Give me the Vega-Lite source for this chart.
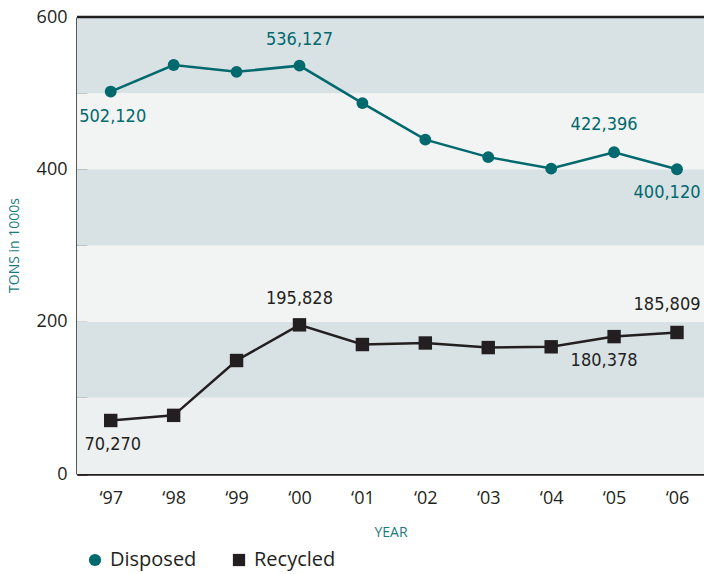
{
  "$schema": "https://vega.github.io/schema/vega-lite/v6.json",
  "width": 627,
  "height": 457,
  "autosize": {"type": "none"},
  "padding": {"left": 77, "top": 17, "right": 0, "bottom": 100},
  "background": "white",
  "config": {
    "view": {"stroke": null},
    "font": "Open Sans",
    "axis": {
      "domainColor": "#231f20",
      "domainWidth": 2.5,
      "tickColor": "#231f20",
      "tickWidth": 2.5,
      "grid": false,
      "labelFont": "Open Sans",
      "labelFontSize": 18,
      "labelColor": "#231f20",
      "titleFont": "Open Sans",
      "titleFontSize": 14,
      "titleFontWeight": "normal",
      "titleColor": "#1a7a7e"
    }
  },
  "datasets": {
    "bands": [
      {"lo": 0, "hi": 100},
      {"lo": 100, "hi": 200},
      {"lo": 200, "hi": 300},
      {"lo": 300, "hi": 400},
      {"lo": 400, "hi": 500},
      {"lo": 500, "hi": 600}
    ],
    "tons": [
      {"year": 1997, "series": "Disposed", "tons": 502.12, "label": "502,120"},
      {"year": 1998, "series": "Disposed", "tons": 537, "label": ""},
      {"year": 1999, "series": "Disposed", "tons": 528, "label": ""},
      {"year": 2000, "series": "Disposed", "tons": 536.127, "label": "536,127"},
      {"year": 2001, "series": "Disposed", "tons": 487, "label": ""},
      {"year": 2002, "series": "Disposed", "tons": 439, "label": ""},
      {"year": 2003, "series": "Disposed", "tons": 416, "label": ""},
      {"year": 2004, "series": "Disposed", "tons": 401, "label": ""},
      {"year": 2005, "series": "Disposed", "tons": 422.396, "label": "422,396"},
      {"year": 2006, "series": "Disposed", "tons": 400.12, "label": "400,120"},
      {"year": 1997, "series": "Recycled", "tons": 70.27, "label": "70,270"},
      {"year": 1998, "series": "Recycled", "tons": 77, "label": ""},
      {"year": 1999, "series": "Recycled", "tons": 149, "label": ""},
      {"year": 2000, "series": "Recycled", "tons": 195.828, "label": "195,828"},
      {"year": 2001, "series": "Recycled", "tons": 170, "label": ""},
      {"year": 2002, "series": "Recycled", "tons": 172, "label": ""},
      {"year": 2003, "series": "Recycled", "tons": 166, "label": ""},
      {"year": 2004, "series": "Recycled", "tons": 167, "label": ""},
      {"year": 2005, "series": "Recycled", "tons": 180.378, "label": "180,378"},
      {"year": 2006, "series": "Recycled", "tons": 185.809, "label": "185,809"}
    ]
  },
  "layer": [
    {
      "data": {"name": "bands"},
      "mark": {"type": "rect"},
      "encoding": {
        "y": {"field": "lo", "type": "quantitative", "scale": {"domain": [0, 600], "nice": false},
          "axis": {
            "values": [0, 100, 200, 300, 400, 500, 600],
            "tickSize": -10,
            "labelPadding": 20,
            "labelExpr": "datum.value % 200 == 0 ? datum.label : ''",
            "title": "TONS in 1000s",
            "titleFontSize": 14,
            "titleX": -56,
            "titleY": 228
          }},
        "y2": {"field": "hi"},
        "color": {
          "condition": [
            {"test": "datum.lo % 200 == 100", "value": "#d8e1e4"},
            {"test": "datum.lo == 0", "value": "#ecf0f1"}
          ],
          "value": "#f2f4f4"
        }
      }
    },
    {
      "data": {"name": "bands"},
      "transform": [{"filter": "datum.hi == 600"}],
      "mark": {"type": "rule", "color": "#231f20", "strokeWidth": 2.5},
      "encoding": {"y": {"field": "hi", "type": "quantitative"}}
    },
    {
      "data": {"name": "tons"},
      "mark": {"type": "line", "strokeWidth": 2.5},
      "encoding": {
        "x": {"field": "year", "type": "quantitative",
          "scale": {"domain": [1996.464, 2006.429], "nice": false, "zero": false},
          "axis": {
            "values": [1997, 1998, 1999, 2000, 2001, 2002, 2003, 2004, 2005, 2006],
            "tickSize": -8,
            "labelPadding": 23,
            "labelExpr": "'\u2018' + slice(toString(datum.value), 2)",
            "title": "YEAR",
            "titleY": 51
          }},
        "y": {"field": "tons", "type": "quantitative"},
        "color": {"field": "series", "type": "nominal",
          "scale": {"domain": ["Disposed", "Recycled"], "range": ["#00696d", "#231f20"]}}
      }
    },
    {
      "data": {"name": "tons"},
      "mark": {"type": "point", "filled": true, "opacity": 1},
      "encoding": {
        "x": {"field": "year", "type": "quantitative"},
        "y": {"field": "tons", "type": "quantitative"},
        "color": {"field": "series", "type": "nominal",
          "legend": {
            "orient": "none",
            "legendX": 8,
            "legendY": 533,
            "direction": "horizontal",
            "title": null,
            "labelFont": "Open Sans",
            "labelFontSize": 20,
            "labelColor": "#231f20",
            "symbolSize": 150,
            "symbolStrokeWidth": 0,
            "symbolOpacity": 1,
            "columnPadding": 32,
            "labelOffset": 5,
            "padding": 0
          }},
        "shape": {"field": "series", "type": "nominal",
          "scale": {"domain": ["Disposed", "Recycled"], "range": ["circle", "square"]}},
        "size": {"condition": {"test": "datum.series == 'Disposed'", "value": 140}, "value": 180}
      }
    },
    {
      "data": {"name": "tons"},
      "transform": [{"filter": "datum.year == 2000"}],
      "mark": {"type": "text", "font": "Liberation Sans Narrow, DejaVu Sans Condensed, Roboto", "fontSize": 18, "baseline": "middle", "dy": -26, "dx": 0},
      "encoding": {
        "x": {"field": "year", "type": "quantitative"},
        "y": {"field": "tons", "type": "quantitative"},
        "text": {"field": "label"},
        "color": {"condition": {"test": "datum.series == 'Disposed'", "value": "#00696d"}, "value": "#231f20"}
      }
    },
    {
      "data": {"name": "tons"},
      "transform": [{"filter": "(datum.series == 'Disposed' && datum.year == 2005) || (datum.series == 'Recycled' && datum.year == 2006)"}],
      "mark": {"type": "text", "font": "Liberation Sans Narrow, DejaVu Sans Condensed, Roboto", "fontSize": 18, "baseline": "middle", "dy": -27, "dx": -10},
      "encoding": {
        "x": {"field": "year", "type": "quantitative"},
        "y": {"field": "tons", "type": "quantitative"},
        "text": {"field": "label"},
        "color": {"condition": {"test": "datum.series == 'Disposed'", "value": "#00696d"}, "value": "#231f20"}
      }
    },
    {
      "data": {"name": "tons"},
      "transform": [{"filter": "datum.year == 1997"}],
      "mark": {"type": "text", "font": "Liberation Sans Narrow, DejaVu Sans Condensed, Roboto", "fontSize": 18, "baseline": "middle", "dy": 25, "dx": 2},
      "encoding": {
        "x": {"field": "year", "type": "quantitative"},
        "y": {"field": "tons", "type": "quantitative"},
        "text": {"field": "label"},
        "color": {"condition": {"test": "datum.series == 'Disposed'", "value": "#00696d"}, "value": "#231f20"}
      }
    },
    {
      "data": {"name": "tons"},
      "transform": [{"filter": "(datum.series == 'Disposed' && datum.year == 2006) || (datum.series == 'Recycled' && datum.year == 2005)"}],
      "mark": {"type": "text", "font": "Liberation Sans Narrow, DejaVu Sans Condensed, Roboto", "fontSize": 18, "baseline": "middle", "dy": 24, "dx": -10},
      "encoding": {
        "x": {"field": "year", "type": "quantitative"},
        "y": {"field": "tons", "type": "quantitative"},
        "text": {"field": "label"},
        "color": {"condition": {"test": "datum.series == 'Disposed'", "value": "#00696d"}, "value": "#231f20"}
      }
    }
  ]
}
